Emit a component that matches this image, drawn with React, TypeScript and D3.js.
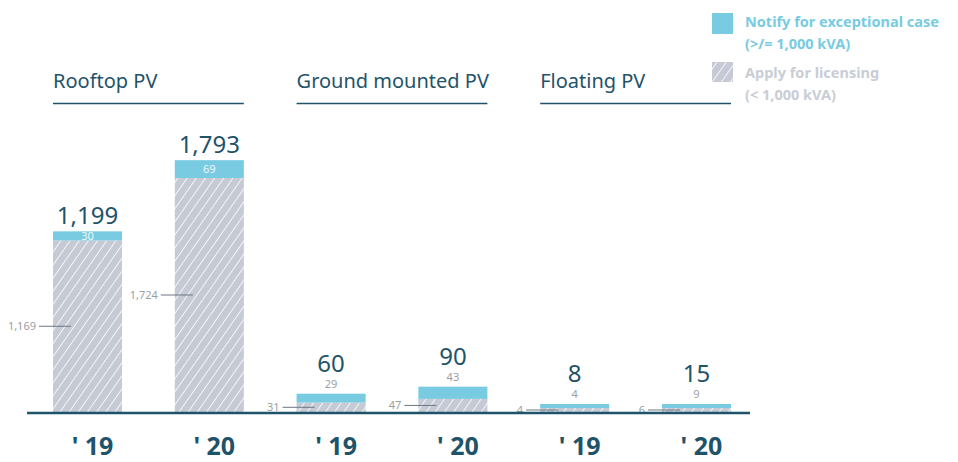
import React from "react";
import * as d3 from "d3";

// Solar PV applications by type and year
const groups = ["Rooftop PV", "Ground mounted PV", "Floating PV"];
const years = ["' 19", "' 20"];
const notify = [30, 69, 29, 43, 4, 9]; // notify for exceptional case (>= 1,000 kVA)
const licensing = [1169, 1724, 31, 47, 4, 6]; // apply for licensing (< 1,000 kVA)
const legendItems = [
  ["Notify for exceptional case", "(>/= 1,000 kVA)"],
  ["Apply for licensing", "(< 1,000 kVA)"],
];

const W = 958;
const H = 462;
const BASE = 412;
const DARK = "#1f5369";
const CYAN = "#78cbe1";
const HATCH_BG = "#c5cad5";
const FONT = "'Noto Sans', 'Open Sans', sans-serif";

const keys = groups.flatMap((g) => years.map((y) => `${g}|${y}`));

export default function App() {
  const x = d3.scaleBand<string>().domain(keys).range([53, 731]).paddingInner(0.433).paddingOuter(0);
  const bw = x.bandwidth();
  // compressed scale keeps the small categories visible next to rooftop
  const h = d3.scalePow().exponent(0.8).domain([0, d3.max(licensing) as number]).range([0, 234]);
  const seg = (v: number) => Math.max(4, h(v));
  const fmt = d3.format(",");

  const bars = keys.map((k, i) => {
    const lic = licensing[i];
    const nt = notify[i];
    const hl = seg(lic);
    const hn = seg(nt);
    return { k, i, lic, nt, total: lic + nt, x0: x(k) as number, hatchTop: BASE - hl, top: BASE - hl - hn, hl, hn };
  });

  return (
    <svg width={W} height={H} style={{ position: "absolute", left: 0, top: 0, fontFamily: FONT }}>
      <defs>
        <pattern id="hatch" patternUnits="userSpaceOnUse" width="7.5" height="7.5" patternTransform="rotate(35)">
          <rect width="7.5" height="7.5" fill={HATCH_BG} />
          <line x1="0" y1="0" x2="0" y2="7.5" stroke="#ffffff" strokeWidth="1.6" />
        </pattern>
      </defs>

      {/* legend */}
      <g>
        <rect x={712} y={13} width={21} height={21} fill={CYAN} />
        <text x={745} y={27} fill={CYAN} fontSize={14.5} fontWeight={700}>{legendItems[0][0]}</text>
        <text x={745} y={49} fill={CYAN} fontSize={14.5} fontWeight={700}>{legendItems[0][1]}</text>
        <rect x={712} y={62} width={21} height={20} fill="url(#hatch)" />
        <text x={745} y={78} fill="#c9cdd5" fontSize={14.5} fontWeight={700}>{legendItems[1][0]}</text>
        <text x={745} y={100} fill="#c9cdd5" fontSize={14.5} fontWeight={700}>{legendItems[1][1]}</text>
      </g>

      {/* group titles */}
      {groups.map((g, gi) => {
        const a = x(keys[gi * 2]) as number;
        const b = (x(keys[gi * 2 + 1]) as number) + bw;
        return (
          <g key={g}>
            <text x={a} y={88} fill={DARK} fontSize={20}>{g}</text>
            <line x1={a} x2={b} y1={103.5} y2={103.5} stroke={DARK} strokeWidth={1.5} />
          </g>
        );
      })}

      {/* bars */}
      {bars.map((d) => {
        const cx = d.x0 + bw / 2;
        const tall = d.hl > 100;
        const hatchLabelY = d.hatchTop + d.hl / 2;
        return (
          <g key={d.k}>
            <rect x={d.x0} y={d.hatchTop} width={bw} height={d.hl} fill="url(#hatch)" />
            <rect x={d.x0} y={d.top} width={bw} height={d.hn} fill={CYAN} />
            {/* licensing value with leader line */}
            <line x1={d.x0 - 14} x2={d.x0 + 18} y1={hatchLabelY} y2={hatchLabelY} stroke="#6c7681" strokeWidth={1} />
            <text x={d.x0 - 17} y={hatchLabelY + 4} textAnchor="end" fill="#9a9ea4" fontSize={11}>{fmt(d.lic)}</text>
            {/* notify value */}
            {tall ? (
              <text x={cx} y={d.top + d.hn / 2 + 4} textAnchor="middle" fill="#eef8fb" fontSize={11}>{fmt(d.nt)}</text>
            ) : (
              <text x={cx} y={d.top - 6} textAnchor="middle" fill="#9a9ea4" fontSize={11}>{fmt(d.nt)}</text>
            )}
            {/* total */}
            <text x={cx} y={tall ? d.top - 7 : d.top - 22} textAnchor="middle" fill={DARK} fontSize={24}>{fmt(d.total)}</text>
            {/* year */}
            <text x={cx + 5} y={455} textAnchor="middle" fill={DARK} fontSize={25} fontWeight={700}>{years[d.i % 2]}</text>
          </g>
        );
      })}

      <line x1={27} x2={750} y1={BASE + 1} y2={BASE + 1} stroke={DARK} strokeWidth={2.5} />
    </svg>
  );
}
